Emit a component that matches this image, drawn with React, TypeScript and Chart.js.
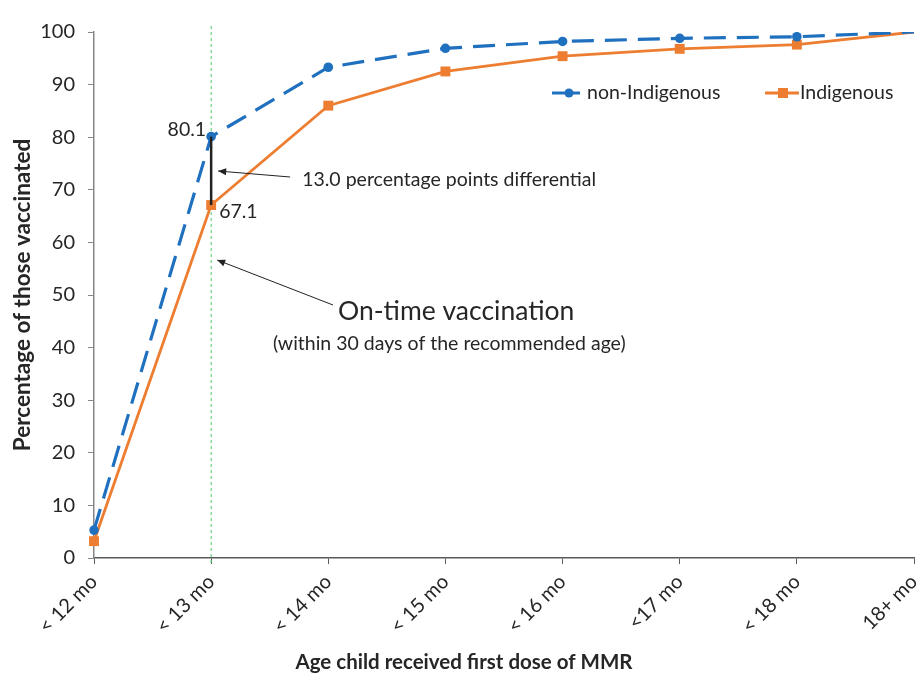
import React, { useEffect, useRef } from "react";
import { Chart, registerables } from "chart.js";

Chart.register(...registerables);

const categories = ["< 12 mo", "< 13 mo", "< 14 mo", "< 15 mo", "< 16 mo", "<17 mo", "< 18 mo", "18+ mo"];
const nonIndigenous = [5.3, 80.1, 93.3, 96.9, 98.2, 98.8, 99.1, 100];
const indigenous = [3.2, 67.1, 86.0, 92.5, 95.4, 96.8, 97.6, 100];
const yTicksMax = 100;
const yStep = 10;
const onTimeIndex = 1;
const xTitle = "Age child received first dose of MMR";
const yTitle = "Percentage of those vaccinated";

const BLUE = "#1F70BF";
const ORANGE = "#ED7D31";
const FONT = "Lato, 'Open Sans', sans-serif";
const TEXT = "#262626";

function arrow(ctx: CanvasRenderingContext2D, x1: number, y1: number, x2: number, y2: number) {
  ctx.save();
  ctx.strokeStyle = "#222";
  ctx.fillStyle = "#222";
  ctx.lineWidth = 1;
  ctx.beginPath();
  ctx.moveTo(x1, y1);
  ctx.lineTo(x2, y2);
  ctx.stroke();
  const a = Math.atan2(y2 - y1, x2 - x1);
  const L = 8, W = 3.5;
  ctx.beginPath();
  ctx.moveTo(x2, y2);
  ctx.lineTo(x2 - L * Math.cos(a) + W * Math.sin(a), y2 - L * Math.sin(a) - W * Math.cos(a));
  ctx.lineTo(x2 - L * Math.cos(a) - W * Math.sin(a), y2 - L * Math.sin(a) + W * Math.cos(a));
  ctx.closePath();
  ctx.fill();
  ctx.restore();
}

const annotationPlugin = {
  id: "annotations",
  beforeDatasetsDraw(chart: any) {
    const { ctx, scales } = chart;
    const x = scales.x.getPixelForValue(onTimeIndex);
    ctx.save();
    ctx.strokeStyle = "#4CCB66";
    ctx.lineWidth = 1;
    ctx.setLineDash([3, 3]);
    ctx.beginPath();
    ctx.moveTo(x, scales.y.top - 6);
    ctx.lineTo(x, scales.y.bottom + 7);
    ctx.stroke();
    ctx.restore();
  },
  afterDatasetsDraw(chart: any) {
    const { ctx, scales } = chart;
    const xs = scales.x, ys = scales.y;
    const x = xs.getPixelForValue(onTimeIndex);
    const yTop = ys.getPixelForValue(nonIndigenous[onTimeIndex]);
    const yBot = ys.getPixelForValue(indigenous[onTimeIndex]);
    ctx.save();
    ctx.strokeStyle = "#222";
    ctx.lineWidth = 2.5;
    ctx.beginPath();
    ctx.moveTo(x, yTop);
    ctx.lineTo(x, yBot);
    ctx.stroke();

    ctx.fillStyle = TEXT;
    ctx.font = `19.5px ${FONT}`;
    ctx.textBaseline = "middle";
    ctx.textAlign = "right";
    ctx.fillText(nonIndigenous[onTimeIndex].toFixed(1), x - 5, yTop - 7);
    ctx.textAlign = "left";
    ctx.fillText(indigenous[onTimeIndex].toFixed(1), x + 8, yBot + 7);

    const diff = (nonIndigenous[onTimeIndex] - indigenous[onTimeIndex]).toFixed(1);
    ctx.fillText(`${diff} percentage points differential`, x + 91, 180);
    arrow(ctx, x + 79, 177, x + 7, 171);

    ctx.font = `26.5px ${FONT}`;
    ctx.fillText("On-time vaccination", 338, 311);
    ctx.font = `19.5px ${FONT}`;
    ctx.fillText("(within 30 days of the recommended age)", 273, 344);
    arrow(ctx, 333, 305, x + 6, 260);

    // legend
    const ly = 93;
    ctx.lineWidth = 3;
    ctx.strokeStyle = BLUE;
    ctx.beginPath();
    ctx.moveTo(552, ly);
    ctx.lineTo(580, ly);
    ctx.stroke();
    ctx.fillStyle = BLUE;
    ctx.beginPath();
    ctx.arc(569, ly, 4.5, 0, Math.PI * 2);
    ctx.fill();
    ctx.strokeStyle = ORANGE;
    ctx.beginPath();
    ctx.moveTo(765, ly);
    ctx.lineTo(799, ly);
    ctx.stroke();
    ctx.fillStyle = ORANGE;
    ctx.fillRect(778, ly - 5, 10, 10);
    ctx.fillStyle = TEXT;
    ctx.font = `19.5px ${FONT}`;
    ctx.textAlign = "left";
    ctx.fillText("non-Indigenous", 587, ly);
    ctx.fillText("Indigenous", 800, ly);

    // x axis title, centred on the figure
    ctx.font = `bold 20.5px ${FONT}`;
    ctx.textAlign = "center";
    ctx.fillText(xTitle, 464, 662);
    ctx.restore();
  },
};

export default function App() {
  const ref = useRef<HTMLCanvasElement | null>(null);
  useEffect(() => {
    document.body.style.margin = "0";
    const canvas = ref.current!;
    const last = categories.length - 1;
    const chart = new Chart(canvas, {
      type: "line",
      data: {
        labels: categories,
        datasets: [
          {
            label: "non-Indigenous",
            data: nonIndigenous,
            borderColor: BLUE,
            backgroundColor: BLUE,
            borderWidth: 3.2,
            borderDash: [22, 11],
            pointStyle: "circle",
            pointRadius: categories.map((_, i) => (i === last ? 0 : 4.8)),
            pointBorderWidth: 0,
            tension: 0,
          },
          {
            label: "Indigenous",
            data: indigenous,
            borderColor: ORANGE,
            backgroundColor: ORANGE,
            borderWidth: 2.8,
            pointStyle: "rect",
            pointRadius: categories.map((_, i) => (i === last ? 0 : 7)),
            pointBorderWidth: 0,
            tension: 0,
          },
        ],
      },
      options: {
        responsive: false,
        animation: false,
        layout: { padding: { top: 32, right: 6, left: 0, bottom: 0 } },
        plugins: { legend: { display: false }, tooltip: { enabled: false } },
        scales: {
          x: {
            grid: { drawOnChartArea: false, drawTicks: true, tickLength: 6, color: "#595959", lineWidth: 1 },
            border: { color: "#595959", width: 1.5 },
            ticks: { font: { size: 20, family: FONT }, color: TEXT, minRotation: 45, maxRotation: 45, padding: 6, autoSkip: false },
            title: { display: false, text: xTitle },
            afterFit: (s: any) => {
              s.height = 675 - 558;
              s.paddingLeft = 0;
              s.paddingRight = 0;
            },
          },
          y: {
            min: 0,
            max: yTicksMax,
            grid: { drawOnChartArea: false, drawTicks: true, tickLength: 6, color: "#868686" },
            border: { color: "#868686", width: 1.5 },
            ticks: { stepSize: yStep, font: { size: 20, family: FONT }, color: TEXT, padding: 13 },
            title: {
              display: true,
              text: yTitle,
              font: { size: 22.5, weight: "bold", family: FONT },
              color: TEXT,
              padding: { top: 9, bottom: 0 },
            },
            afterFit: (s: any) => {
              s.width = 94;
              s.paddingTop = 0;
              s.paddingBottom = 0;
            },
          },
        },
      },
      plugins: [annotationPlugin],
    });
    return () => chart.destroy();
  }, []);
  return <canvas ref={ref} width={921} height={675} style={{ display: "block" }} />;
}
